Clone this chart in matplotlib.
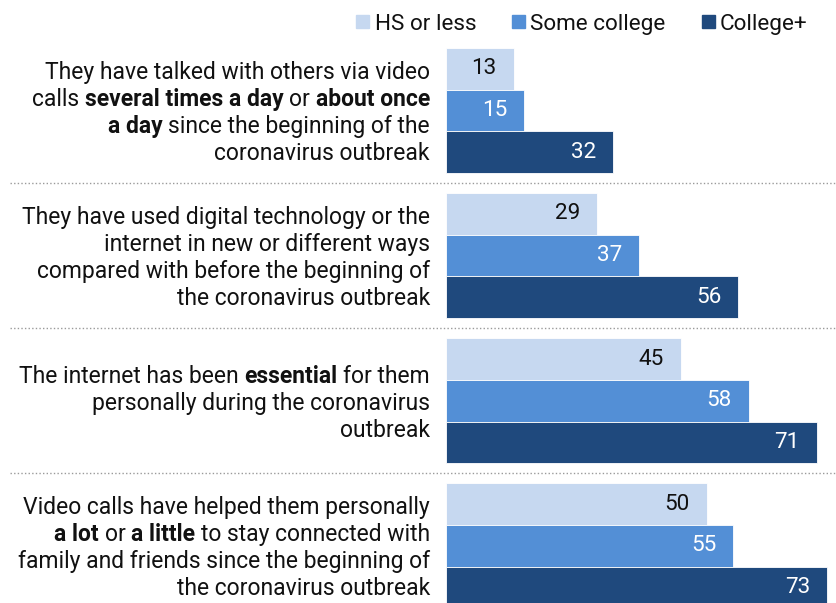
import matplotlib
matplotlib.use("Agg")
import matplotlib.pyplot as plt
from matplotlib.transforms import IdentityTransform
from matplotlib.patches import Rectangle

# ---- data ----
series_names = ["HS or less", "Some college", "College+"]
hs_or_less = [13, 29, 45, 50]
some_college = [15, 37, 58, 55]
college_plus = [32, 56, 71, 73]

# category labels, each line a list of (text, bold) runs
category_labels = [
    [[("They have talked with others via video", False)],
     [("calls", False), ("several times a day", True), ("or", False), ("about once", True)],
     [("a day", True), ("since the beginning of the", False)],
     [("coronavirus outbreak", False)]],
    [[("They have used digital technology or the", False)],
     [("internet in new or different ways", False)],
     [("compared with before the beginning of", False)],
     [("the coronavirus outbreak", False)]],
    [[("The internet has been", False), ("essential", True), ("for them", False)],
     [("personally during the coronavirus", False)],
     [("outbreak", False)]],
    [[("Video calls have helped them personally", False)],
     [("a lot", True), ("or", False), ("a little", True), ("to stay connected with", False)],
     [("family and friends since the beginning of", False)],
     [("the coronavirus outbreak", False)]],
]

colors = ["#C6D8F0", "#538FD6", "#1F497D"]
label_colors = ["#111111", "white", "white"]

FONT = "Roboto"
FS = 16.2
FS_LABEL = 16.5
plt.rcParams["font.family"] = [FONT, "DejaVu Sans"]

W, H = 836, 603
fig = plt.figure(figsize=(W / 100, H / 100), dpi=100)

# bar area: x from 446 px to the right edge; y in bar-height units
bar_px = 41.7
pitch = 3.48
x0_px = 446
px_per_unit = (827 - 446) / 73.0
ax = fig.add_axes([x0_px / W, 0, 1 - x0_px / W, 1])
ax.set_xlim(0, (W - x0_px) / px_per_unit)
top_units = -110.5 / bar_px
bot_units = (H - 110.5) / bar_px
ax.set_ylim(bot_units, top_units)
ax.axis("off")

series = [hs_or_less, some_college, college_plus]
n_groups = len(hs_or_less)
for s, vals in enumerate(series):
    ys = [g * pitch + (s - 1) for g in range(n_groups)]
    ax.barh(ys, vals, height=1.0, color=colors[s], edgecolor="white",
            linewidth=0.6)
    for y, v in zip(ys, vals):
        ax.annotate(str(v), (v, y), xytext=(-17, 0), textcoords="offset pixels",
                    ha="right", va="center", fontsize=FS, color=label_colors[s],
                    family=[FONT, "DejaVu Sans"])

# dotted separators between groups
for g in range(n_groups - 1):
    y = (g + 0.5) * pitch
    ax.axhline(y, xmin=(10 - x0_px) / (W - x0_px), xmax=1, color="#9a9a9a",
               linestyle=(0, (1, 1.6)), linewidth=1.0, clip_on=False)

renderer = fig.canvas.get_renderer()


def text_width(s, bold):
    t = fig.text(0, 0, s, fontsize=FS_LABEL, fontweight="bold" if bold else "normal",
                 transform=IdentityTransform())
    w = t.get_window_extent(renderer).width
    t.remove()
    return w


space_w = text_width("a a", False) - text_width("aa", False)

right_px = 430
line_h = 27.0
for g, lines in enumerate(category_labels):
    center_px = 110.5 + g * pitch * bar_px
    n = len(lines)
    for i, runs in enumerate(lines):
        y_px = center_px + (i - (n - 1) / 2) * line_h
        y_disp = H - y_px
        x = right_px
        for j, (txt, bold) in enumerate(reversed(runs)):
            fig.text(x, y_disp, txt, fontsize=FS_LABEL, ha="right",
                     va="center_baseline",
                     fontweight="bold" if bold else "normal", color="#111111",
                     transform=IdentityTransform())
            x -= text_width(txt, bold) + space_w

# legend
legend_items = [(356, 375), (512, 530), (702, 720)]
for (sq_x, tx), name, c in zip(legend_items, series_names, colors):
    fig.patches.append(Rectangle((sq_x, H - 28), 13, 13, color=c,
                                 transform=IdentityTransform()))
    fig.text(tx, H - 22, name, fontsize=FS, ha="left", va="center_baseline",
             color="#111111", transform=IdentityTransform())

fig.savefig("out.png", dpi=100)
